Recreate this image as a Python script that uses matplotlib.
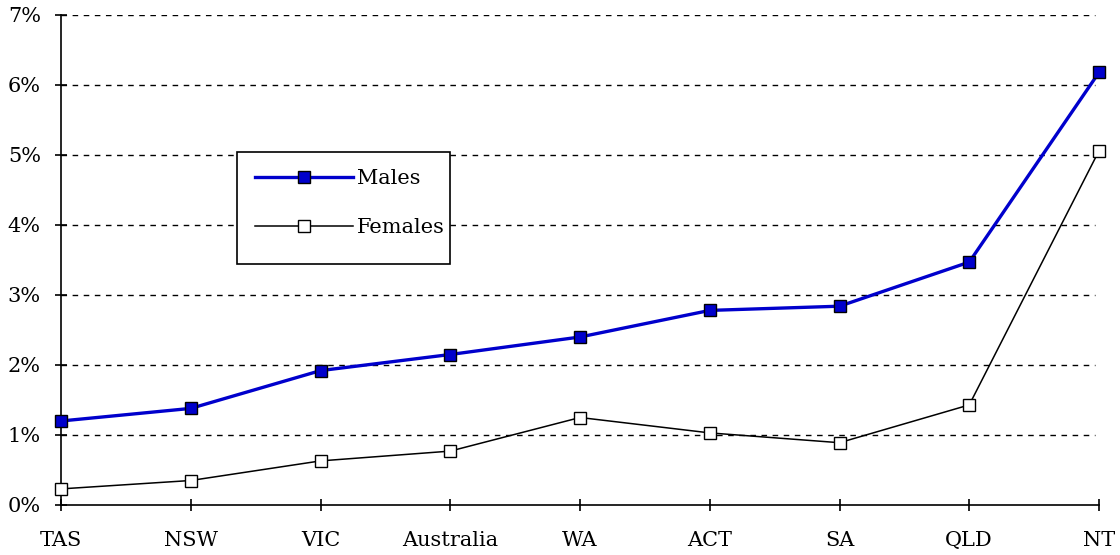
import matplotlib
matplotlib.use("Agg")
import matplotlib.pyplot as plt
from matplotlib.ticker import FuncFormatter
from matplotlib.patches import Rectangle

categories = ["TAS", "NSW", "VIC", "Australia", "WA", "ACT", "SA", "QLD", "NT"]
males = [1.20, 1.38, 1.92, 2.15, 2.40, 2.78, 2.84, 3.47, 6.18]
females = [0.23, 0.35, 0.63, 0.77, 1.25, 1.03, 0.89, 1.43, 5.06]
yticks = [0, 1, 2, 3, 4, 5, 6, 7]

plt.rcParams['font.family'] = ['DejaVu Serif']

W, H = 1120, 555
fig = plt.figure(figsize=(W/100, H/100), dpi=100)
ax = fig.add_axes([61/W, 50/H, 1038/W, 490/H])

x = list(range(len(categories)))
ax.plot(x, males, color='#0000cc', lw=2.4, marker='s', markersize=8,
        markerfacecolor='#0000cc', markeredgecolor='black', markeredgewidth=1.0,
        label='Males', zorder=4, clip_on=False)
ax.plot(x, females, color='black', lw=1.1, marker='s', markersize=8,
        markerfacecolor='white', markeredgecolor='black', markeredgewidth=1.0,
        label='Females', zorder=3, clip_on=False)

ax.set_xlim(0, len(categories) - 1)
ax.set_ylim(0, 7)
ax.set_xticks(x)
ax.set_xticklabels(categories)
ax.set_yticks(yticks)
ax.yaxis.set_major_formatter(FuncFormatter(lambda v, p: f"{int(v)}%"))

for v in yticks[1:]:
    ax.plot([0, len(categories) - 1 - 0.03], [v, v], color='black', lw=1.0,
            ls=(0, (4, 4)), zorder=1)

for s in ['top', 'right']:
    ax.spines[s].set_visible(False)
ax.spines['left'].set_linewidth(1.2)
ax.spines['bottom'].set_linewidth(1.2)
ax.tick_params(axis='both', direction='inout', length=9, width=1.2, labelsize=15)
ax.tick_params(axis='x', pad=14)
ax.tick_params(axis='y', pad=10)

# legend box
box = Rectangle((237/W, 1 - 264/H), 213/W, 112/H, transform=fig.transFigure,
                facecolor='white', edgecolor='black', lw=1.2, zorder=5,
                clip_on=False)
ax.add_artist(box)

leg = ax.legend(loc='upper left', bbox_to_anchor=(251/W, 1 - 165/H),
                bbox_transform=fig.transFigure, frameon=False, fontsize=15,
                handlelength=4.7, handletextpad=0.2, borderpad=0.2,
                labelspacing=1.45, borderaxespad=0)
leg.set_zorder(6)

fig.savefig("out.png", dpi=100)
